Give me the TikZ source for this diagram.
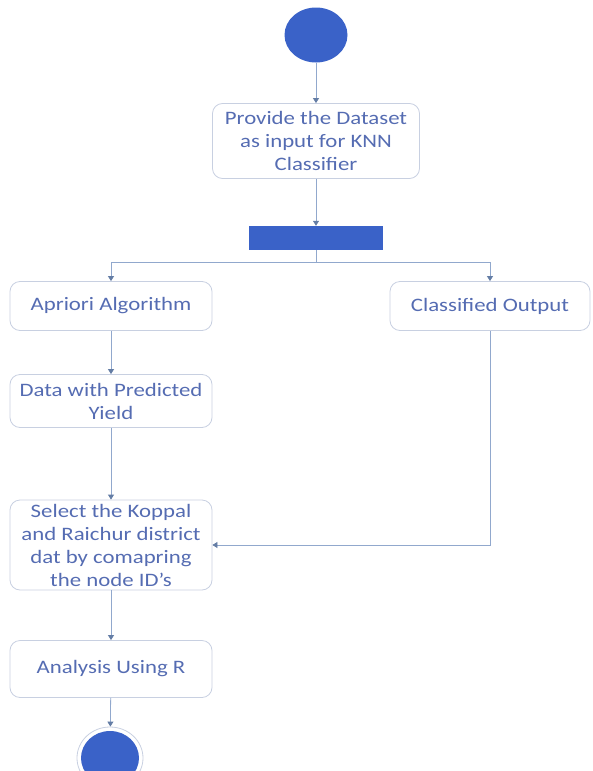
\documentclass[tikz,border=0pt]{standalone}
\usepackage{fontspec}
\setmainfont{Carlito}[FakeStretch=1.2]
\usetikzlibrary{shapes.geometric,arrows.meta}
\definecolor{flowblue}{RGB}{58,98,200}
\definecolor{flowtext}{RGB}{85,108,178}
\definecolor{flowline}{RGB}{145,168,205}
\definecolor{flowtip}{RGB}{100,125,165}
\definecolor{flowedge}{RGB}{200,208,225}

\begin{document}
\begin{tikzpicture}[x=1pt,y=-1pt,
	activity/.style={draw=flowedge,line width=0.8pt,rounded corners=10pt,minimum width=202pt,align=center,text=flowtext,font=\fontsize{19}{23}\selectfont,inner sep=2pt},
	flow/.style={draw=flowline,line width=0.8pt,-{Triangle[length=5pt,width=6pt,color=flowtip]}}]
	\useasboundingbox (0,0) rectangle (592,771);
	\clip (0,0) rectangle (592,771);
	
	\node[ellipse,fill=flowblue,minimum width=63pt,minimum height=55pt] (start) at (316,35) {};
	\node[activity,minimum width=207pt,minimum height=75pt] (input) at (316,141) {Provide the Dataset\\as input for KNN\\Classifier};
	\node[fill=flowblue,minimum width=134pt,minimum height=24pt,inner sep=0pt] (fork) at (316,238) {};
	
	\node[activity,minimum height=49pt] (apriori) at (111,306) {Apriori Algorithm};
	\node[activity,minimum width=200pt,minimum height=49pt] (classified) at (490,306) {Classified Output};
	\node[activity,minimum height=53pt] (predicted) at (111,401) {Data with Predicted\\Yield};
	\node[activity,minimum height=90pt] (select) at (111,545) {Select the Koppal\\and Raichur district\\dat by comapring\\the node ID's};
	\node[activity,minimum height=57pt] (analysis) at (111,669) {Analysis Using R};
	\node[ellipse,draw=flowedge,line width=0.8pt,minimum width=66pt,minimum height=62pt,path picture={\fill[flowblue] (path picture bounding box.center) ellipse (29pt and 27pt);}] (stop) at (110,758) {};
	
	\draw[flow] (start) -- (input);
	\draw[flow] (input) -- (fork);
	\draw[draw=flowline,line width=0.8pt] (fork.south) -- ++(0,12) coordinate (split);
	\draw[flow] (split) -| (apriori.north);
	\draw[flow] (split) -| (classified.north);
	\draw[flow] (apriori) -- (predicted);
	\draw[flow] (predicted) -- (select);
	\draw[flow] (classified.south) |- (select.east);
	\draw[flow] (select) -- (analysis);
	\draw[flow] (analysis) -- (stop);
	
\end{tikzpicture}
\end{document}
